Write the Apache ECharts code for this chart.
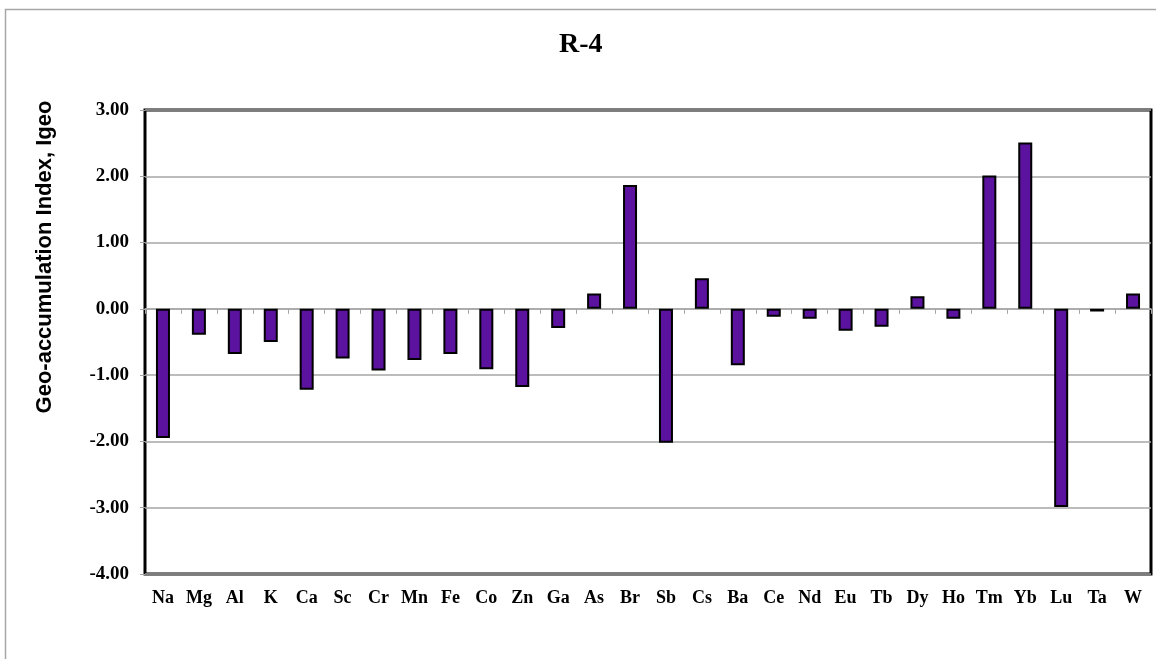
<!DOCTYPE html>
<html>
<head>
<meta charset="utf-8">
<script src="https://cdn.jsdelivr.net/npm/echarts@6/dist/echarts.min.js"></script>
<style>
  html, body { margin: 0; padding: 0; background: #fff; }
  #chart { width: 1156px; height: 659px; }
</style>
</head>
<body>
<div id="chart"></div>
<script>
// elements along the x axis
var elements = ['Na', 'Mg', 'Al', 'K', 'Ca', 'Sc', 'Cr', 'Mn', 'Fe', 'Co', 'Zn', 'Ga', 'As', 'Br',
  'Sb', 'Cs', 'Ba', 'Ce', 'Nd', 'Eu', 'Tb', 'Dy', 'Ho', 'Tm', 'Yb', 'Lu', 'Ta', 'W']
// Igeo values
var igeo = [-1.95, -0.39, -0.68, -0.50, -1.22, -0.75, -0.93, -0.77, -0.68, -0.91, -1.18, -0.29, 0.23, 1.87,
  -2.02, 0.46, -0.85, -0.12, -0.15, -0.33, -0.27, 0.19, -0.15, 2.01, 2.51, -2.99, -0.04, 0.23]
var yMin = -4
var yMax = 3
var yStep = 1

var chart = echarts.init(document.getElementById('chart'))
var serif = 'Liberation Serif'

var option = {
  animation: false,
  title: {
    text: 'R-4',
    left: 559,
    top: 31,
    padding: 0,
    textStyle: { fontFamily: serif, fontWeight: 'bold', fontSize: 28, color: '#000' }
  },
  graphic: [
    { // outer frame
      type: 'rect',
      shape: { x: 5.5, y: 9.5, width: 1200, height: 700 },
      style: { fill: 'none', stroke: '#a6a6a6', lineWidth: 1.5 },
      silent: true
    },
    { // y axis title
      type: 'text',
      x: 45,
      y: 257,
      rotation: Math.PI / 2,
      style: {
        text: 'Geo-accumulation Index, Igeo',
        fontFamily: 'Liberation Sans',
        fontWeight: 'bold',
        fontSize: 22,
        fill: '#000',
        textAlign: 'center',
        textVerticalAlign: 'middle'
      }
    }
  ],
  grid: {
    left: 145,
    right: 5,
    top: 110,
    bottom: 85,
    show: true,
    borderColor: '#000',
    borderWidth: 3
  },
  xAxis: [
    { // labels at bottom
      type: 'category',
      data: elements,
      position: 'bottom',
      axisLine: { show: false, onZero: false },
      axisTick: { show: false },
      axisLabel: {
        interval: 0,
        margin: 15,
        fontFamily: serif,
        fontWeight: 'bold',
        fontSize: 18,
        color: '#000'
      },
      splitLine: { show: false }
    },
    { // zero line with ticks
      type: 'category',
      data: elements,
      position: 'bottom',
      axisLine: { show: true, onZero: true, lineStyle: { color: '#a6a6a6', width: 1.5 } },
      axisTick: { show: true, length: 5, lineStyle: { color: '#a6a6a6', width: 1 } },
      axisLabel: { show: false },
      splitLine: { show: false }
    }
  ],
  yAxis: {
    type: 'value',
    min: yMin,
    max: yMax,
    interval: yStep,
    axisLine: { show: false },
    axisTick: { show: true, length: 5, lineStyle: { color: '#a6a6a6' } },
    axisLabel: {
      margin: 16,
      formatter: function (v) { return v.toFixed(2) },
      fontFamily: serif,
      fontWeight: 'bold',
      fontSize: 19,
      color: '#000'
    },
    splitLine: { lineStyle: { color: '#a6a6a6', width: 1.5 } }
  },
  series: [
    {
      name: 'Igeo',
      type: 'bar',
      xAxisIndex: 0,
      data: igeo,
      barWidth: 14,
      itemStyle: {
        color: '#5b129f',
        borderColor: '#000',
        borderWidth: 2
      }
    }
  ]
}
chart.setOption(option)
window.addEventListener('resize', () => {
  chart.resize()
})
</script>
</body>
</html>
